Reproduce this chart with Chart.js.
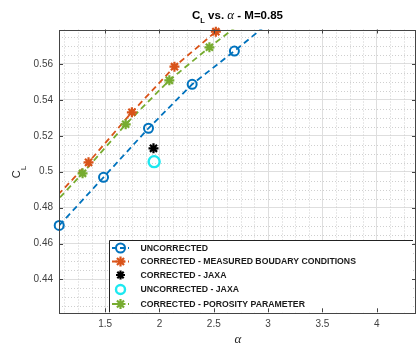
<!DOCTYPE html>
<html>
<head>
<meta charset="utf-8">
<script src="https://cdn.jsdelivr.net/npm/chart.js@4.4.1/dist/chart.umd.min.js"></script>
<style>
  html, body { margin:0; padding:0; background:#fff; }
  #wrap { width:417px; height:349px; position:relative; }
</style>
</head>
<body>
<div id="wrap"><canvas id="c"></canvas></div>
<script>
// ---- data ----
const alphaUncorr   = [1.077, 1.485, 1.899, 2.301, 2.690, 3.08];
const clUncorr      = [0.4701, 0.4969, 0.5242, 0.5487, 0.5672, 0.5865];
const alphaMeasured = [0.94, 1.347, 1.746, 2.138, 2.519, 2.89];
const clMeasured    = [0.479, 0.5052, 0.5331, 0.5585, 0.5780, 0.5945];
const alphaPorosity = [0.895, 1.292, 1.689, 2.091, 2.460, 2.83];
const clPorosity    = [0.4735, 0.4991, 0.5264, 0.5509, 0.5693, 0.5865];
const alphaJaxaCorr = [1.945];
const clJaxaCorr    = [0.5130];
const alphaJaxaUnc  = [1.951];
const clJaxaUnc     = [0.5056];

const xTickVals = [1.5, 2, 2.5, 3, 3.5, 4];
const xTickLabels = ['1.5', '2', '2.5', '3', '3.5', '4'];
const yTickVals = [0.44, 0.46, 0.48, 0.50, 0.52, 0.54, 0.56];
const yTickLabels = ['0.44', '0.46', '0.48', '0.5', '0.52', '0.54', '0.56'];
const legendLabels = [
  'UNCORRECTED',
  'CORRECTED - MEASURED BOUDARY CONDITIONS',
  'CORRECTED - JAXA',
  'UNCORRECTED - JAXA',
  'CORRECTED - POROSITY PARAMETER'
];

const X_MIN = 1.075, X_MAX = 4.362, Y_MIN = 0.4217, Y_MAX = 0.5792;

const BLUE = '#0072BD', ORANGE = '#D95319', GREEN = '#77AC30', CYAN = '#1EE8F0', BLACK = '#000000';

function toPts(xs, ys) { return xs.map(function(x, i) { return { x: x, y: ys[i] }; }); }

// hide markers whose centre is outside the axes (line is clipped, markers are not)
function inR(r) {
  return function(ctx) {
    const p = ctx.raw;
    if (!p) return 0;
    return (p.x >= X_MIN - 1e-6 && p.x <= X_MAX && p.y >= Y_MIN && p.y <= Y_MAX) ? r : 0;
  };
}

function lineSet(xs, ys, color) {
  return {
    data: toPts(xs, ys), showLine: true, borderColor: color, borderWidth: 1.8,
    borderDash: [6, 4], pointRadius: 0, clip: 0, tension: 0
  };
}
function markerSet(xs, ys, color, style, r, bw) {
  return {
    data: toPts(xs, ys), showLine: false, pointStyle: style, pointRadius: inR(r),
    pointBorderColor: color, pointBackgroundColor: 'rgba(0,0,0,0)', pointBorderWidth: bw,
    clip: false
  };
}

// ---- decorations: minor grid, box, ticks, legend, titles ----
const deco = {
  id: 'deco',
  beforeDatasetsDraw(chart) {
    const c = chart.ctx, a = chart.chartArea, xs = chart.scales.x, ys = chart.scales.y;
    c.save();
    c.strokeStyle = '#cfcfcf'; c.lineWidth = 1; c.setLineDash([1, 2]);
    for (let v = Math.ceil(X_MIN / 0.125) * 0.125; v <= X_MAX; v += 0.125) {
      if (Math.abs(v / 0.5 - Math.round(v / 0.5)) < 1e-6) continue;
      const px = Math.round(xs.getPixelForValue(v)) + 0.5;
      c.beginPath(); c.moveTo(px, a.top); c.lineTo(px, a.bottom); c.stroke();
    }
    for (let v = Math.ceil(Y_MIN / 0.005) * 0.005; v <= Y_MAX; v += 0.005) {
      if (Math.abs(v / 0.02 - Math.round(v / 0.02)) < 1e-6) continue;
      const py = Math.round(ys.getPixelForValue(v)) + 0.5;
      c.beginPath(); c.moveTo(a.left, py); c.lineTo(a.right, py); c.stroke();
    }
    c.restore();
  },
  afterDatasetsDraw(chart) {
    const c = chart.ctx, a = chart.chartArea, xs = chart.scales.x, ys = chart.scales.y;
    c.save();
    // legend box
    const lx = 109.5, ly = 240.5, lr = 413, lb = a.bottom;
    c.fillStyle = '#fff';
    c.fillRect(lx, ly, lr - lx, lb - ly);
    c.strokeStyle = '#222'; c.lineWidth = 1;
    c.beginPath(); c.moveTo(lr, ly); c.lineTo(lx, ly); c.lineTo(lx, lb); c.stroke();
    const rowY = [248, 261.5, 275, 289.5, 304];
    const items = [
      { col: BLUE, line: true, style: 'circle', r: 4.5, bw: 2 },
      { col: ORANGE, line: true, style: 'star', r: 5, bw: 2.2 },
      { col: BLACK, line: false, style: 'star', r: 4.5, bw: 2.2 },
      { col: CYAN, line: false, style: 'circle', r: 4.5, bw: 2.4 },
      { col: GREEN, line: true, style: 'star', r: 5, bw: 2.2 }
    ];
    items.forEach(function(it, i) {
      const y = rowY[i];
      if (it.line) {
        c.strokeStyle = it.col; c.lineWidth = 1.8; c.setLineDash([5, 3]);
        c.beginPath(); c.moveTo(112, y); c.lineTo(129, y); c.stroke();
        c.setLineDash([]);
      }
      c.strokeStyle = it.col; c.fillStyle = 'rgba(0,0,0,0)'; c.lineWidth = it.bw;
      Chart.helpers.drawPoint(c, { pointStyle: it.style, radius: it.r, borderWidth: it.bw }, 120.5, y);
      c.fillStyle = '#1a1a1a';
      c.font = 'bold 8.7px "Liberation Sans", Arial, sans-serif';
      c.textBaseline = 'middle'; c.textAlign = 'left';
      c.fillText(legendLabels[i], 140.5, y + 0.5);
    });
    // axes box
    c.strokeStyle = '#444'; c.lineWidth = 1;
    c.strokeRect(Math.round(a.left) + 0.5, Math.round(a.top) + 0.5,
                 Math.round(a.right - a.left) - 1, Math.round(a.bottom - a.top));
    // inward tick marks
    const tl = 4;
    c.beginPath();
    xTickVals.forEach(function(v) {
      const px = Math.round(xs.getPixelForValue(v)) + 0.5;
      c.moveTo(px, a.top); c.lineTo(px, a.top + tl);
      c.moveTo(px, a.bottom); c.lineTo(px, a.bottom - tl);
    });
    yTickVals.forEach(function(v) {
      const py = Math.round(ys.getPixelForValue(v)) + 0.5;
      c.moveTo(a.left, py); c.lineTo(a.left + tl, py);
      c.moveTo(a.right, py); c.lineTo(a.right - tl, py);
    });
    c.stroke();
    c.restore();
  },
  afterDraw(chart) {
    const c = chart.ctx, a = chart.chartArea;
    c.save();
    c.fillStyle = '#000'; c.textBaseline = 'alphabetic';
    // title: C_L vs. α - M=0.85
    const fB = 'bold 11.5px "Liberation Sans", Arial, sans-serif';
    const fSub = 'bold 7.5px "Liberation Sans", Arial, sans-serif';
    const fA = 'italic 13px "Liberation Serif", "Times New Roman", serif';
    const parts = [
      { t: 'C', f: fB, dy: 0 }, { t: 'L', f: fSub, dy: 3.5 }, { t: ' vs. ', f: fB, dy: 0 },
      { t: 'α', f: fA, dy: 0 }, { t: ' - M=0.85', f: fB, dy: 0 }
    ];
    let w = 0;
    parts.forEach(function(p) { c.font = p.f; p.w = c.measureText(p.t).width; w += p.w; });
    let x = (a.left + a.right) / 2 - w / 2;
    c.textAlign = 'left';
    parts.forEach(function(p) { c.font = p.f; c.fillText(p.t, x, 19 + p.dy); x += p.w; });
    // y axis title C_L
    c.fillStyle = '#262626';
    c.translate(20, 172);
    c.rotate(-Math.PI / 2);
    c.font = '11px "Liberation Sans", Arial, sans-serif';
    const cw = c.measureText('C').width;
    c.font = '8px "Liberation Sans", Arial, sans-serif';
    const lw = c.measureText('L').width;
    c.font = '11px "Liberation Sans", Arial, sans-serif';
    c.fillText('C', -(cw + lw) / 2, 0);
    c.font = '8px "Liberation Sans", Arial, sans-serif';
    c.fillText('L', -(cw + lw) / 2 + cw, 6);
    c.setTransform(1, 0, 0, 1, 0, 0);
    // x axis title α
    c.font = 'italic 13px "Liberation Serif", "Times New Roman", serif';
    c.textAlign = 'center'; c.textBaseline = 'middle';
    c.fillText('α', 238, 340);
    c.restore();
  }
};

const tickFont = { family: '"Liberation Sans", Arial, sans-serif', size: 10 };

new Chart(document.getElementById('c'), {
  type: 'scatter',
  data: {
    datasets: [
      markerSet(alphaJaxaCorr, clJaxaCorr, BLACK, 'star', 5, 2.2),
      markerSet(alphaJaxaUnc, clJaxaUnc, CYAN, 'circle', 5.5, 2.4),
      markerSet(alphaPorosity, clPorosity, GREEN, 'star', 5, 2.2),
      markerSet(alphaMeasured, clMeasured, ORANGE, 'star', 5, 2.2),
      markerSet(alphaUncorr, clUncorr, BLUE, 'circle', 4.5, 2),
      lineSet(alphaPorosity, clPorosity, GREEN),
      lineSet(alphaMeasured, clMeasured, ORANGE),
      lineSet(alphaUncorr, clUncorr, BLUE)
    ]
  },
  options: {
    responsive: true, maintainAspectRatio: false, animation: false, events: [],
    layout: { autoPadding: false, padding: { top: 29.5, right: 1, left: 0, bottom: 0 } },
    plugins: { legend: { display: false }, tooltip: { enabled: false }, title: { display: false } },
    scales: {
      x: {
        type: 'linear', min: X_MIN, max: X_MAX,
        afterBuildTicks: function(s) { s.ticks = xTickVals.map(function(v) { return { value: v }; }); },
        afterFit: function(s) { s.height = 36.7; },
        ticks: { padding: 6, color: '#404040', font: tickFont, maxRotation: 0,
                 callback: function(v, i) { return xTickLabels[i]; } },
        grid: { color: '#dedede', drawTicks: false, lineWidth: 1 },
        border: { display: false }
      },
      y: {
        type: 'linear', min: Y_MIN, max: Y_MAX,
        afterBuildTicks: function(s) { s.ticks = yTickVals.map(function(v) { return { value: v }; }); },
        afterFit: function(s) { s.width = 59; },
        ticks: { padding: 6, color: '#404040', font: tickFont,
                 callback: function(v, i) { return yTickLabels[i]; } },
        grid: { color: '#dedede', drawTicks: false, lineWidth: 1 },
        border: { display: false }
      }
    }
  },
  plugins: [deco]
});
</script>
</body>
</html>
